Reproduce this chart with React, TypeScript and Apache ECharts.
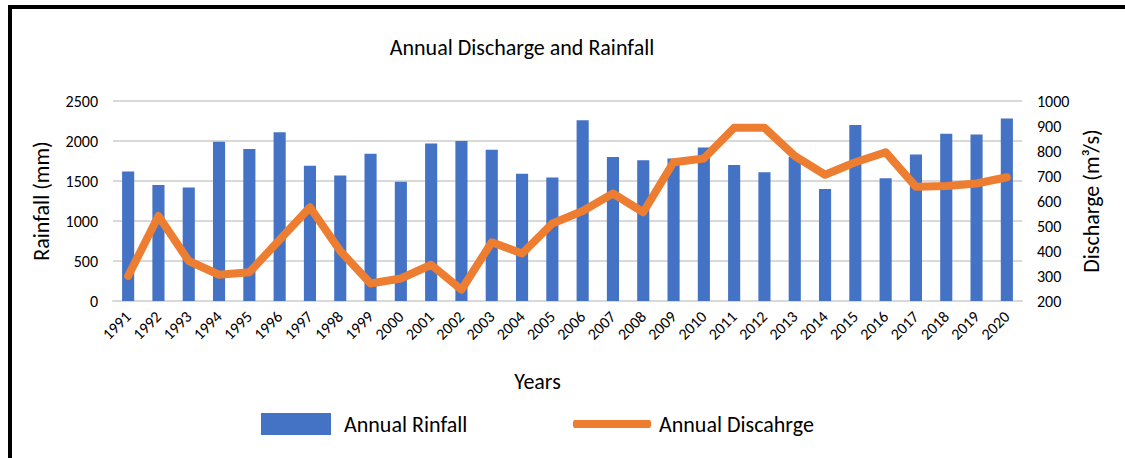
import React, { useEffect, useRef } from "react";
import * as echarts from "echarts";

const years = [
  "1991", "1992", "1993", "1994", "1995", "1996", "1997", "1998", "1999", "2000",
  "2001", "2002", "2003", "2004", "2005", "2006", "2007", "2008", "2009", "2010",
  "2011", "2012", "2013", "2014", "2015", "2016", "2017", "2018", "2019", "2020",
];

const rainfall = [
  1620, 1450, 1420, 1990, 1900, 2110, 1690, 1570, 1840, 1490,
  1970, 2000, 1890, 1590, 1545, 2260, 1800, 1760, 1780, 1920,
  1700, 1610, 1800, 1400, 2200, 1535, 1830, 2090, 2080, 2280,
];

const discharge = [
  300, 540, 360, 305, 315, 445, 575, 400, 270, 290,
  345, 245, 435, 390, 510, 560, 630, 555, 755, 770,
  893, 893, 780, 705, 755, 795, 657, 660, 670, 695,
];

const FONT = "Carlito, 'Open Sans', sans-serif";

export default function App() {
  const ref = useRef<HTMLDivElement>(null);

  useEffect(() => {
    if (!ref.current) return;
    const chart = echarts.init(ref.current, null, { renderer: "svg" });
    chart.setOption({
      animation: false,
      backgroundColor: "#ffffff",
      textStyle: { fontFamily: FONT, color: "#000" },
      title: {
        text: "Annual Discharge and Rainfall",
        left: 517,
        top: 31,
        textAlign: "center",
        textStyle: { fontFamily: FONT, fontSize: 22, fontWeight: "normal", color: "#000" },
      },
      graphic: [
        { type: "rect", shape: { x: 8, y: 5, width: 4, height: 453 }, style: { fill: "#000" } },
        { type: "rect", shape: { x: 8, y: 5, width: 1117, height: 4 }, style: { fill: "#000" } },
      ],
      legend: [
        {
          data: [{ name: "Annual Rinfall", icon: "rect" }],
          left: 261,
          top: 413,
          itemWidth: 70,
          itemHeight: 22,
          textStyle: { fontFamily: FONT, fontSize: 22, color: "#000", padding: [0, 0, 0, 8] },
          padding: 0,
        },
        {
          data: [{ name: "Annual Discahrge", icon: "roundRect" }],
          left: 573,
          top: 413,
          itemWidth: 78,
          itemHeight: 8,
          textStyle: { fontFamily: FONT, fontSize: 22, color: "#000", padding: [0, 0, 0, 3] },
          padding: 0,
        },
      ],
      grid: { left: 113, right: 103, top: 101, bottom: 157 },
      xAxis: {
        type: "category",
        data: years,
        name: "Years",
        nameLocation: "middle",
        nameGap: 69,
        nameTextStyle: { fontFamily: FONT, fontSize: 22, color: "#000", padding: [0, 60, 0, 0] },
        axisLine: { lineStyle: { color: "#d9d9d9", width: 2 } },
        axisTick: { show: false },
        axisLabel: {
          interval: 0,
          rotate: 45,
          fontSize: 16,
          color: "#000",
          fontFamily: FONT,
          margin: 13,
        },
      },
      yAxis: [
        {
          type: "value",
          min: 0,
          max: 2500,
          interval: 500,
          name: "Rainfall (mm)",
          nameLocation: "middle",
          nameRotate: 90,
          nameGap: 61,
          nameTextStyle: { fontFamily: FONT, fontSize: 22, color: "#000" },
          axisLabel: {
            fontSize: 16,
            color: "#000",
            fontFamily: FONT,
            margin: 15,
            formatter: (v: number) => String(v),
          },
          splitLine: { lineStyle: { color: "#d9d9d9", width: 2 } },
          axisLine: { show: false },
          axisTick: { show: false },
        },
        {
          type: "value",
          min: 200,
          max: 1000,
          interval: 100,
          name: "Discharge (m³/s)",
          nameLocation: "middle",
          nameRotate: 90,
          nameGap: 53,
          nameTextStyle: { fontFamily: FONT, fontSize: 22, color: "#000" },
          axisLabel: {
            fontSize: 16,
            color: "#000",
            fontFamily: FONT,
            margin: 15,
            formatter: (v: number) => String(v),
          },
          splitLine: { show: false },
          axisLine: { show: false },
          axisTick: { show: false },
        },
      ],
      series: [
        {
          name: "Annual Rinfall",
          type: "bar",
          data: rainfall,
          barWidth: "40%",
          itemStyle: { color: "#4472c4" },
        },
        {
          name: "Annual Discahrge",
          type: "line",
          yAxisIndex: 1,
          data: discharge,
          showSymbol: false,
          symbol: "none",
          lineStyle: { color: "#ed7d31", width: 8, cap: "round", join: "round" },
          itemStyle: { color: "#ed7d31" },
        },
      ],
    });
    return () => chart.dispose();
  }, []);

  return (
    <div
      ref={ref}
      style={{ position: "fixed", left: 0, top: 0, width: 1125, height: 458 }}
    />
  );
}
